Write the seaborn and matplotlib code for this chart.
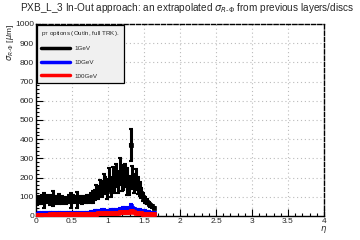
import numpy as np
import matplotlib
matplotlib.use("Agg")
import matplotlib.pyplot as plt
import seaborn as sns
from matplotlib.ticker import MultipleLocator, FuncFormatter

# eta bins (width 0.025) from 0 to 1.65
eta = np.arange(66) * 0.025 + 0.0125

sigma_1gev = [72, 85, 80, 88, 82, 90, 86, 84, 88, 92, 84, 88, 90, 82, 84, 86,
              80, 84, 88, 82, 92, 86, 84, 82, 88, 84, 90, 86, 88, 92, 95, 100,
              110, 130, 120, 150, 140, 170, 160, 130, 190, 150, 200, 180, 210, 170,
              230, 190, 200, 210, 180, 160,
              370,
              200, 170, 190, 160, 140, 120, 100, 85, 75, 65, 55, 50, 42]
err_1gev = [15, 20, 15, 20, 40, 18, 20, 25, 15, 40, 20, 15, 25, 15, 20, 15,
            15, 15, 20, 40, 15, 20, 40, 15, 15, 20, 15, 20, 20, 15, 25, 30,
            25, 30, 30, 40, 40, 50, 45, 40, 60, 50, 55, 60, 60, 50, 70, 60,
            65, 60, 70, 50,
            85,
            60, 50, 55, 45, 35, 25, 20, 15, 12, 10, 8, 8, 6]

sigma_10gev = [12, 14, 13, 15, 14, 15, 14, 15, 16, 14, 15, 15, 16, 15, 14, 15,
               16, 15, 16, 15, 16, 15, 16, 17, 16, 17, 16, 17, 18, 18, 19, 20,
               22, 24, 25, 26, 28, 27, 26, 25, 26, 27, 28, 30, 32, 30, 33, 35,
               38, 40, 36, 38,
               50,
               40, 35, 32, 30, 28, 26, 24, 22, 20, 18, 16, 15, 14]
err_10gev = [5] * 32 + [7] * 20 + [12] + [7] * 13

sigma_100gev = [5, 6, 6, 7, 6, 7, 7, 8, 7, 8, 8, 7, 8, 8, 9, 8,
                8, 9, 8, 9, 9, 8, 9, 10, 9, 10, 9, 10, 11, 10, 11, 12,
                12, 13, 14, 14, 15, 14, 15, 16, 15, 16, 17, 18, 17, 18, 19, 20,
                20, 22, 20, 21,
                28,
                24, 20, 18, 16, 15, 14, 13, 12, 12, 11, 10, 10, 9]
err_100gev = [5] * 32 + [6] * 20 + [8] + [6] * 13

labels = ["1GeV", "10GeV", "100GeV"]
colors = ["black", "blue", "red"]

sns.set_theme(style="white")
plt.rcParams["font.family"] = ["Liberation Sans", "DejaVu Sans"]

fig = plt.figure(figsize=(3.6, 2.4), dpi=100)
ax = fig.add_axes([0.1, 0.1, 0.8, 0.8])

series = [(sigma_1gev, err_1gev), (sigma_10gev, err_10gev), (sigma_100gev, err_100gev)]
for (vals, errs), lab, col in zip(series, labels, colors):
    ax.errorbar(eta, vals, yerr=errs, xerr=0.0125, fmt="none", ecolor=col,
                elinewidth=2.2, capsize=1.5, capthick=1.5, zorder=3)
    sns.scatterplot(x=eta, y=vals, ax=ax, color=col, marker="s", s=12,
                    edgecolor=col, linewidth=0.5, zorder=4, label=None)
    ax.plot([], [], color=col, lw=2.5, label=lab)

ax.set_xlim(0, 4)
ax.set_ylim(0, 1000)
ax.xaxis.set_major_locator(MultipleLocator(0.5))
ax.xaxis.set_minor_locator(MultipleLocator(0.1))
ax.yaxis.set_major_locator(MultipleLocator(100))
ax.yaxis.set_minor_locator(MultipleLocator(20))
ax.xaxis.set_major_formatter(FuncFormatter(lambda v, p: f"{v:g}"))
ax.tick_params(which="both", direction="in", labelsize=6, pad=1.5,
               bottom=True, left=True, top=False, right=False, color="black")
ax.tick_params(which="major", length=5, width=0.8)
ax.tick_params(which="minor", length=2.5, width=0.8)

ax.grid(True, which="major", linestyle=(0, (1, 2.5)), color="#bbbbbb", linewidth=0.8)
for side in ["top", "right"]:
    ax.spines[side].set_linestyle((0, (3, 1.5)))
for sp in ax.spines.values():
    sp.set_color("black")
    sp.set_linewidth(1.0)

leg = ax.legend(loc="upper left", bbox_to_anchor=(0.0, 1.0), fontsize=4.5,
                title=r"p$_{\mathrm{T}}$ options (OutIn, full TRK).", title_fontsize=4.5,
                handlelength=4.6, labelspacing=1.3, borderpad=0.7, alignment="left",
                fancybox=False, frameon=True, borderaxespad=0.1)
leg.get_frame().set_facecolor("#f0f0f0")
leg.get_frame().set_edgecolor("black")
leg.get_frame().set_linewidth(0.9)
leg.get_frame().set_alpha(1)

fig.text(0.52, 0.965, r"PXB_L_3 In-Out approach: an extrapolated $\sigma_{R\text{-}\Phi}$ from previous layers/discs",
         ha="center", va="center", fontsize=7.2)
fig.text(0.028, 0.9, r"$\sigma_{R\text{-}\Phi}$ [$\mu$m]", rotation=90, ha="center", va="top", fontsize=6)
fig.text(0.9, 0.045, r"$\eta$", ha="center", va="center", fontsize=6)

fig.savefig("out.png", dpi=100)
